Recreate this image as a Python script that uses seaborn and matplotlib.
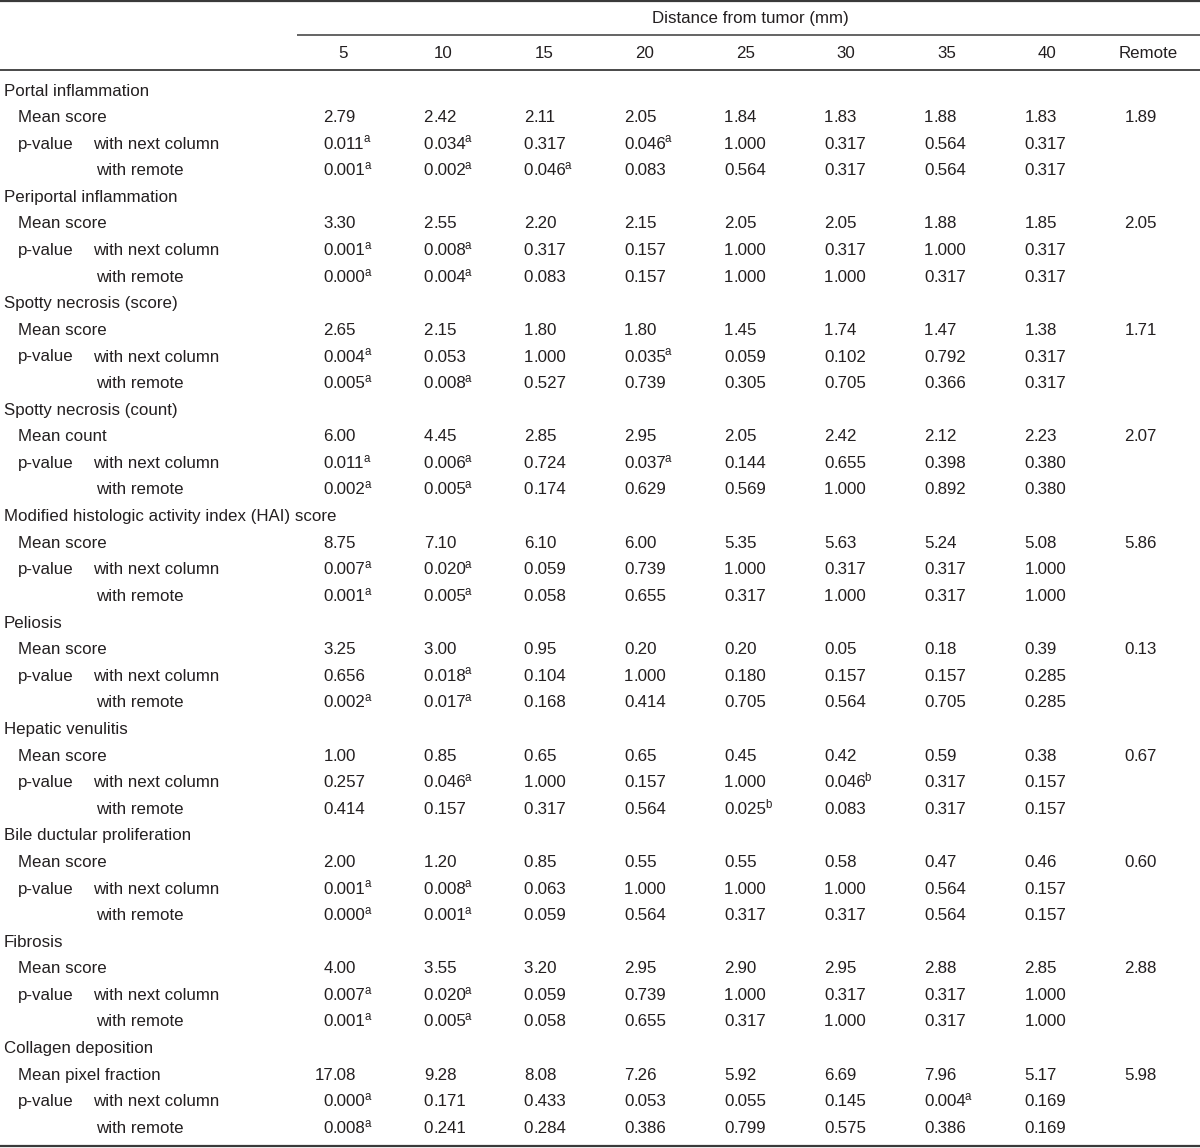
import matplotlib
matplotlib.use("Agg")
import matplotlib.pyplot as plt
import seaborn as sns

# table content
header = "Distance from tumor (mm)"
columns = ["5", "10", "15", "20", "25", "30", "35", "40", "Remote"]

groups = ["Portal inflammation", "Periportal inflammation", "Spotty necrosis (score)",
          "Spotty necrosis (count)", "Modified histologic activity index (HAI) score",
          "Peliosis", "Hepatic venulitis", "Bile ductular proliferation", "Fibrosis",
          "Collagen deposition"]
mean_labels = ["Mean score", "Mean score", "Mean score", "Mean count", "Mean score",
               "Mean score", "Mean score", "Mean score", "Mean score", "Mean pixel fraction"]

means = [
    ["2.79", "2.42", "2.11", "2.05", "1.84", "1.83", "1.88", "1.83", "1.89"],
    ["3.30", "2.55", "2.20", "2.15", "2.05", "2.05", "1.88", "1.85", "2.05"],
    ["2.65", "2.15", "1.80", "1.80", "1.45", "1.74", "1.47", "1.38", "1.71"],
    ["6.00", "4.45", "2.85", "2.95", "2.05", "2.42", "2.12", "2.23", "2.07"],
    ["8.75", "7.10", "6.10", "6.00", "5.35", "5.63", "5.24", "5.08", "5.86"],
    ["3.25", "3.00", "0.95", "0.20", "0.20", "0.05", "0.18", "0.39", "0.13"],
    ["1.00", "0.85", "0.65", "0.65", "0.45", "0.42", "0.59", "0.38", "0.67"],
    ["2.00", "1.20", "0.85", "0.55", "0.55", "0.58", "0.47", "0.46", "0.60"],
    ["4.00", "3.55", "3.20", "2.95", "2.90", "2.95", "2.88", "2.85", "2.88"],
    ["17.08", "9.28", "8.08", "7.26", "5.92", "6.69", "7.96", "5.17", "5.98"],
]
p_next = [
    ["0.011a", "0.034a", "0.317", "0.046a", "1.000", "0.317", "0.564", "0.317"],
    ["0.001a", "0.008a", "0.317", "0.157", "1.000", "0.317", "1.000", "0.317"],
    ["0.004a", "0.053", "1.000", "0.035a", "0.059", "0.102", "0.792", "0.317"],
    ["0.011a", "0.006a", "0.724", "0.037a", "0.144", "0.655", "0.398", "0.380"],
    ["0.007a", "0.020a", "0.059", "0.739", "1.000", "0.317", "0.317", "1.000"],
    ["0.656", "0.018a", "0.104", "1.000", "0.180", "0.157", "0.157", "0.285"],
    ["0.257", "0.046a", "1.000", "0.157", "1.000", "0.046b", "0.317", "0.157"],
    ["0.001a", "0.008a", "0.063", "1.000", "1.000", "1.000", "0.564", "0.157"],
    ["0.007a", "0.020a", "0.059", "0.739", "1.000", "0.317", "0.317", "1.000"],
    ["0.000a", "0.171", "0.433", "0.053", "0.055", "0.145", "0.004a", "0.169"],
]
p_remote = [
    ["0.001a", "0.002a", "0.046a", "0.083", "0.564", "0.317", "0.564", "0.317"],
    ["0.000a", "0.004a", "0.083", "0.157", "1.000", "1.000", "0.317", "0.317"],
    ["0.005a", "0.008a", "0.527", "0.739", "0.305", "0.705", "0.366", "0.317"],
    ["0.002a", "0.005a", "0.174", "0.629", "0.569", "1.000", "0.892", "0.380"],
    ["0.001a", "0.005a", "0.058", "0.655", "0.317", "1.000", "0.317", "1.000"],
    ["0.002a", "0.017a", "0.168", "0.414", "0.705", "0.564", "0.705", "0.285"],
    ["0.414", "0.157", "0.317", "0.564", "0.025b", "0.083", "0.317", "0.157"],
    ["0.000a", "0.001a", "0.059", "0.564", "0.317", "0.317", "0.564", "0.157"],
    ["0.001a", "0.005a", "0.058", "0.655", "0.317", "1.000", "0.317", "1.000"],
    ["0.008a", "0.241", "0.284", "0.386", "0.799", "0.575", "0.386", "0.169"],
]

sns.set_theme(style="white")
plt.rcParams["font.family"] = ["Liberation Sans", "DejaVu Sans"]

TXT = "#231f20"
FS = 12.2
SUP_FS = 8.3
BASE = 5.5  # baseline offset below row centre, px

fig = plt.figure(figsize=(12, 11.48), dpi=100)
ax = fig.add_axes([0, 0, 1, 1])
ax.set_xlim(0, 1200)
ax.set_ylim(1148, 0)
ax.axis("off")

pending_sups = []


def label(x, y, s):
    ax.text(x, y + BASE, s, ha="left", va="baseline", fontsize=FS, color=TXT)


def put_num(k, y, s):
    sup = ""
    if s[-1].isalpha():
        s, sup = s[:-1], s[-1]
    left, right = s.split(".")
    xd = 333 + k * 100.1
    ax.text(xd, y + BASE, left, ha="right", va="baseline", fontsize=FS, color=TXT)
    t = ax.text(xd, y + BASE, "." + right, ha="left", va="baseline", fontsize=FS, color=TXT)
    if sup:
        pending_sups.append((t, y, sup))


# rules
ax.axhline(1, color="#3a3a3a", lw=1.6)
ax.hlines(35, 297, 1200, color="#3a3a3a", lw=1.1)
ax.axhline(70, color="#3a3a3a", lw=1.3)
ax.axhline(1146, color="#3a3a3a", lw=1.6)

# header
ax.text(750, 18 + BASE, header, ha="center", va="baseline", fontsize=FS, color=TXT)
for k, c in enumerate(columns):
    ax.text(343 + k * 100.6, 52 + BASE, c, ha="center", va="baseline", fontsize=FS, color=TXT)

row_h = 26.6
y0 = 90
for g, name in enumerate(groups):
    yg = y0 + g * 4 * row_h
    label(4, yg, name)
    ym = yg + row_h
    label(18, ym, mean_labels[g])
    for k, v in enumerate(means[g]):
        put_num(k, ym, v)
    yn = yg + 2 * row_h
    label(18, yn, "p-value")
    label(93, yn, "with next column")
    for k, v in enumerate(p_next[g]):
        put_num(k, yn, v)
    yr = yg + 3 * row_h
    label(96, yr, "with remote")
    for k, v in enumerate(p_remote[g]):
        put_num(k, yr, v)

# small superscript letters placed right after their numbers
renderer = fig.canvas.get_renderer()
inv = ax.transData.inverted()
for t, y, sup in pending_sups:
    bb = t.get_window_extent(renderer)
    x_end = inv.transform((bb.x1, bb.y0))[0]
    ax.text(x_end - 1.5, y + BASE - 6.2, sup, ha="left", va="baseline",
            fontsize=SUP_FS, color=TXT)

fig.savefig("out.png", dpi=100, facecolor="white")
